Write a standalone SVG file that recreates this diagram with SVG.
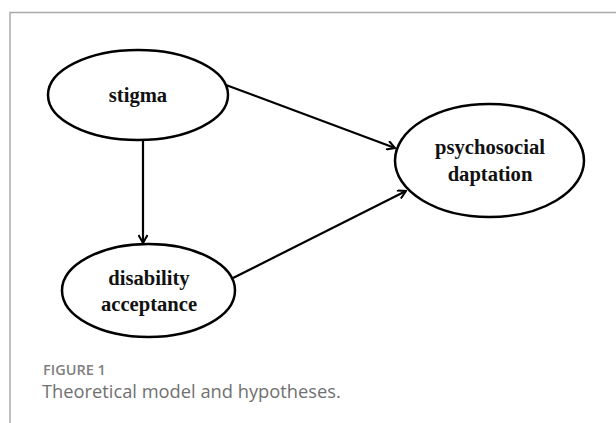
<svg xmlns="http://www.w3.org/2000/svg" width="616" height="423" viewBox="0 0 616 423">
<style>
.node{fill:#fff;stroke:#000;stroke-width:2.5}
.lbl{font-family:"Liberation Serif","Times New Roman",serif;font-weight:bold;font-size:20.6px;fill:#111;text-anchor:middle}
.conn{stroke:#000;stroke-width:2.2;fill:none;marker-end:url(#arr)}
.frame{stroke:#aaa;stroke-width:1.5;fill:none}
</style>
<defs>
<marker id="arr" viewBox="0 0 10 10" refX="9" refY="5" markerWidth="10" markerHeight="10" markerUnits="userSpaceOnUse" orient="auto">
<path d="M1,0.5 L9,5 L1,9.5" fill="none" stroke="#000" stroke-width="2"/>
</marker>
</defs>
<rect width="616" height="423" fill="#fff"/>
<path class="frame" d="M10,423 V12.5 H616"/>
<g id="connectors">
<line class="conn" x1="226" y1="85" x2="395" y2="148"/>
<line class="conn" x1="233" y1="278" x2="406" y2="191"/>
<line class="conn" x1="143" y1="140" x2="143" y2="243"/>
</g>
<g id="stigma">
<ellipse class="node" cx="138" cy="95" rx="90" ry="45"/>
<text class="lbl" x="138" y="102">stigma</text>
</g>
<g id="psychosocial">
<ellipse class="node" cx="489.5" cy="160.5" rx="94.5" ry="56.5"/>
<text class="lbl" x="490" y="154">psychosocial</text>
<text class="lbl" x="490" y="181">daptation</text>
</g>
<g id="disability">
<ellipse class="node" cx="148.5" cy="290.5" rx="86.5" ry="46.5"/>
<text class="lbl" x="149" y="285">disability</text>
<text class="lbl" x="149" y="311">acceptance</text>
</g>
<g id="caption">
<text x="43" y="375" font-family="'Open Sans',sans-serif" font-weight="600" font-size="14.5px" fill="#808080">FIGURE 1</text>
<text x="42" y="398" font-family="'Open Sans',sans-serif" font-size="18.3px" fill="#707070">Theoretical model and hypotheses.</text>
</g>
</svg>
